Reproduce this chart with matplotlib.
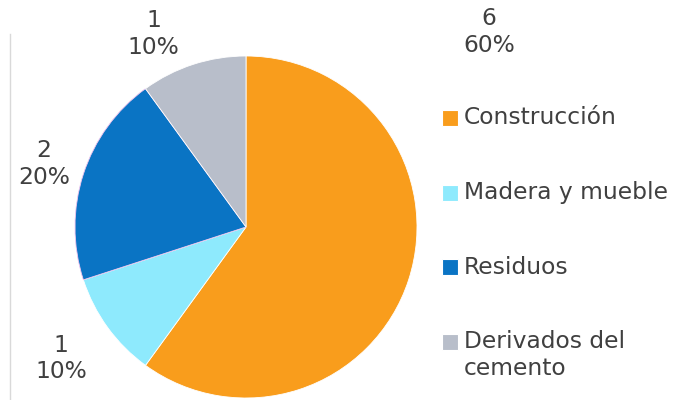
import matplotlib
matplotlib.use("Agg")
import matplotlib.pyplot as plt
from matplotlib.patches import Rectangle

categories = ["Construcción", "Madera y mueble", "Residuos", "Derivados del\ncemento"]
values = [6, 1, 2, 1]
colors = ["#F99D1C", "#8EEAFD", "#0A74C4", "#B8BECA"]

# label spots (in pie-radius units, relative to centre), like Excel put them
label_pos = [(1.42, 1.14), (-1.08, -0.77), (-1.18, 0.37), (-0.54, 1.13)]

text_color = "#404040"
fs = 16.8

fig = plt.figure(figsize=(6.74, 4.0), dpi=100)
ax = fig.add_axes([0, 0, 1, 1])

# pixel-based frame so the pie lands where it should
cx, cy, r = 246, 400 - 227, 171
wedges, _ = ax.pie(values, colors=colors, startangle=90, counterclock=False,
                   center=(cx, cy), radius=r, frame=True,
                   wedgeprops=dict(edgecolor="white", linewidth=0.6))
wedges[2].set_edgecolor("#F2C4EE")
ax.set_xlim(0, 674)
ax.set_ylim(0, 400)
ax.set_aspect("equal")
ax.axis("off")

total = sum(values)
for v, (lx, ly) in zip(values, label_pos):
    ax.text(cx + lx * r, cy + ly * r, f"{v}\n{v / total:.0%}", ha="center", va="center",
            fontsize=fs, color=text_color, linespacing=1.2)

# left border line
ax.plot([10, 10], [0, 400 - 34], color="#D9D9D9", lw=1)

# legend drawn by hand
leg_y = [118, 193, 267, 342]
for cat, col, y in zip(categories, colors, leg_y):
    yy = 400 - y
    ax.add_patch(Rectangle((442, yy - 8), 16, 16, facecolor=col, edgecolor="white", lw=0.8))
    if "\n" in cat:
        ax.text(464, yy + 12, cat, ha="left", va="top",
                fontsize=fs, color=text_color, linespacing=1.2)
    else:
        ax.text(464, yy, cat, ha="left", va="center",
                fontsize=fs, color=text_color)

fig.savefig("out.png", dpi=100)
